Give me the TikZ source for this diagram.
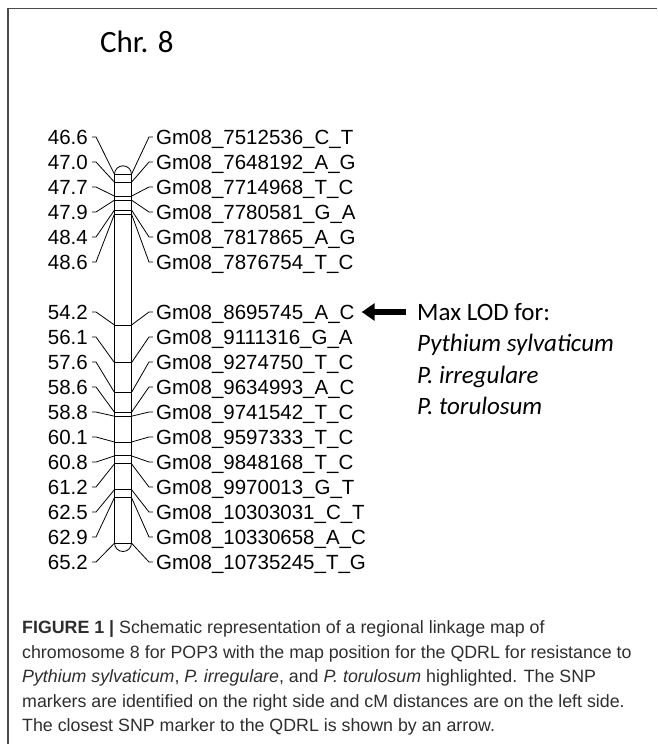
\documentclass[tikz,border=0pt]{standalone}
\usepackage{fontspec}
\setmainfont{Liberation Sans}
\newfontfamily\calibri{Carlito}
\usetikzlibrary{positioning,arrows.meta}
\definecolor{framegray}{HTML}{4A4A4A}
\definecolor{captiongray}{HTML}{2E2E2E}

\begin{document}
\begin{tikzpicture}[
    x=1pt, y=1pt,
    linkline/.style={line width=0.8pt},
    cmtext/.style={font=\fontsize{20.5}{24}\selectfont, anchor=east, inner xsep=4pt, inner ysep=0pt, text height=14.7pt, text depth=0pt},
    snptext/.style={font=\fontsize{20.5}{24}\selectfont, anchor=west, inner xsep=3pt, inner ysep=0pt, text height=14.7pt, text depth=0pt},
    notetext/.style={font=\calibri\fontsize{25}{30}\selectfont, inner sep=0pt, text height=17pt, text depth=6pt, anchor=north west},
    speciestext/.style={notetext, font=\calibri\itshape\fontsize{25}{30}\selectfont},
    captext/.style={font=\fontsize{17.8}{24}\selectfont, text=captiongray, inner sep=0pt, anchor=base west}
]
    \useasboundingbox (0,0) rectangle (657,-744);

    % panel frame
    \draw[framegray, line width=1.5pt] (8,-744) -- (8,-8.5) -- (657,-8.5);

    % title
    \node[font=\calibri\fontsize{31}{36}\selectfont, inner sep=0pt, anchor=west] (title) at (100,-42) {Chr. 8};

    % chromosome outline
    \draw[linkline] (114.5,-174.3) arc[start angle=180, end angle=0, radius=8.5pt]
        -- (131.5,-543) arc[start angle=0, end angle=-180, radius=8.5pt] -- cycle;

    % markers: cM position on the left, SNP name on the right
    \foreach \i/\row/\cm/\snp in {1/0/46.6/7512536\_C\_T, 2/1/47.0/7648192\_A\_G,
        3/2/47.7/7714968\_T\_C, 4/3/47.9/7780581\_G\_A, 5/4/48.4/7817865\_A\_G,
        6/5/48.6/7876754\_T\_C, 7/7/54.2/8695745\_A\_C, 8/8/56.1/9111316\_G\_A,
        9/9/57.6/9274750\_T\_C, 10/10/58.6/9634993\_A\_C, 11/11/58.8/9741542\_T\_C,
        12/12/60.1/9597333\_T\_C, 13/13/60.8/9848168\_T\_C, 14/14/61.2/9970013\_G\_T,
        15/15/62.5/10303031\_C\_T, 16/16/62.9/10330658\_A\_C, 17/17/65.2/10735245\_T\_G} {
        \pgfmathsetmacro{\ym}{-(174.3+19.83*(\cm-46.6))}
        \pgfmathsetmacro{\yl}{-(137+25*\row)}
        \coordinate (ml\i) at (114.5,\ym);
        \coordinate (mr\i) at (131.5,\ym);
        \draw[linkline] (ml\i) -- (mr\i);
        \node[cmtext] (cm\i) at (92,\yl) {\cm};
        \node[snptext] (snp\i) at (153,\yl) {Gm08\_\snp};
        \draw[linkline] (cm\i.east) -- ++(4,0) -- (ml\i);
        \draw[linkline] (mr\i) -- ([xshift=-4pt]snp\i.west) -- (snp\i.west);
    }

    % max lod note and arrow
    \node[notetext] (maxlod) at (417,-303) {Max LOD for:};
    \node[speciestext, below=8pt of maxlod.south west, anchor=north west] (sylv) {Pythium sylvaticum};
    \node[speciestext, below=8pt of sylv.south west, anchor=north west] (irreg) {P. irregulare};
    \node[speciestext, below=8pt of irreg.south west, anchor=north west] (torul) {P. torulosum};
    \draw[-{Triangle[length=13pt,width=17pt]}, line width=6pt, shorten >=4pt, shorten <=11pt]
        (snp7.east -| maxlod.west) -- (snp7.east);

    % caption
    \node[captext] (cap1) at (22,-633.5) {\textbf{FIGURE 1 |} Schematic representation of a regional linkage map of};
    \node[captext] (cap2) at ([yshift=-24.5pt]cap1.base west) {chromosome 8 for POP3 with the map position for the QDRL for resistance to};
    \node[captext] (cap3) at ([yshift=-24.5pt]cap2.base west) {\textit{Pythium sylvaticum}, \textit{P. irregulare}, and \textit{P. torulosum} highlighted. The SNP};
    \node[captext] (cap4) at ([yshift=-24.5pt]cap3.base west) {markers are identified on the right side and cM distances are on the left side.};
    \node[captext] (cap5) at ([yshift=-24.5pt]cap4.base west) {The closest SNP marker to the QDRL is shown by an arrow.};
\end{tikzpicture}
\end{document}
